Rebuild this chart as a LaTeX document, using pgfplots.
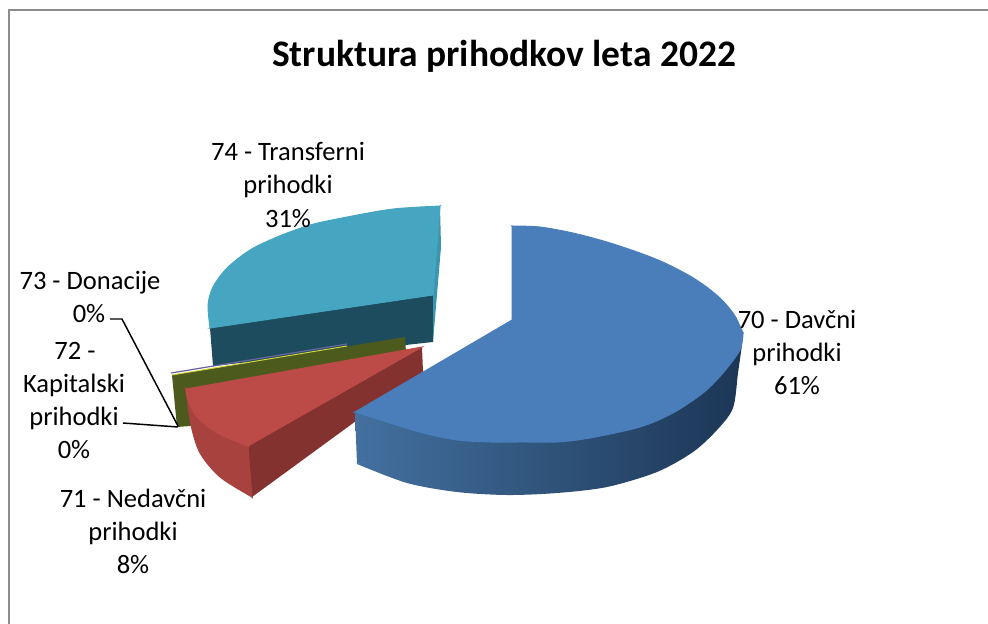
\documentclass[border=0pt]{standalone}
\usepackage{pgfplots}
\pgfplotsset{compat=1.18}
\usepackage{fontspec}
\setmainfont{Carlito}
\definecolor{bluetop}{HTML}{4A7EBB}
\definecolor{blueL}{HTML}{43709F}
\definecolor{blueR}{HTML}{1C3656}
\definecolor{tealtop}{HTML}{46A6C2}
\definecolor{tealdark}{HTML}{1D4C5E}
\definecolor{tealside}{HTML}{3C95AE}
\definecolor{redtop}{HTML}{BC4B48}
\definecolor{redside}{HTML}{A8423F}
\definecolor{reddark}{HTML}{84322F}
\definecolor{olive}{HTML}{4C5B1D}
\definecolor{framegray}{HTML}{8C8C8C}
\newcommand{\lab}[3]{\node[font=\fontsize{19.9}{22}\selectfont,text=black,inner sep=0pt,anchor=base] at (axis cs:#1,#2) {#3};}
\pgfplotsset{face/.style={draw=#1, line width=0.7pt, fill=#1, mark=none}}
\begin{document}
\begin{tikzpicture}
\useasboundingbox (0,0) rectangle (741pt,468pt);
\begin{axis}[
  at={(0,0)}, anchor=south west,
  scale only axis, width=741pt, height=468pt,
  xmin=0, xmax=988, ymin=0, ymax=624, y dir=reverse,
  axis lines=none, clip=true]
% frame
\addplot[framegray, line width=1.1pt] coordinates {(9,624) (9,10) (988,10)};
% teal segment
\addplot[draw=none, fill=tealdark] coordinates {(210,328) (433,295) (433,342) (213,366)} --cycle;
\addplot[draw=none, fill=tealside] coordinates {(440,206) (441,247) (433,342) (433,295)} --cycle;
\addplot[face=tealtop] coordinates {(440,206) (210,328) (433,295)} --cycle;
\addplot[face=tealtop, smooth] coordinates {(440,206) (393,209) (347,217) (310,225) (277,237) (250,250) (227,268) (213,287) (208,305) (210,328)} --cycle;
% thin slices
\addplot[draw=none, fill=olive] coordinates {(172,375) (405,337) (406,352) (190,426) (177,427)} --cycle;
\addplot[color=cyan!10!blue!50!gray, line width=0.9pt] coordinates {(171,373) (347,344)};
\addplot[color=olive!30!yellow!80!white, line width=0.7pt] coordinates {(172,375) (347,346)};
% red segment
\addplot[draw=none, fill=reddark] coordinates {(248,446) (422,347) (423,372) (252,497)} --cycle;
\addplot[face=redside] coordinates {(186,389) (252,497) (248,446)} --cycle;
\addplot[face=redside, smooth] coordinates {(186,389) (191,425) (200,453) (220,477) (252,497)} --cycle;
\addplot[face=redtop] coordinates {(186,389) (422,347) (248,446)} --cycle;
\addplot[face=redtop, smooth] coordinates {(186,389) (188,400) (197,417) (217,433) (248,446)} --cycle;
% blue segment
\addplot[draw=none, left color=blueL, right color=blueR, smooth] coordinates {(357,464) (407,483) (457,492) (507,495) (557,493) (607,487) (657,472) (693,452) (717,430) (733,408) (738,373) (742,345)} --cycle;
\addplot[draw=none, left color=blueL, right color=blueL!75!blueR] coordinates {(355,412) (357,464) (455,437) (455,425)} --cycle;
\addplot[face=bluetop] coordinates {(512,226) (512,320) (355,412) (743,333)} --cycle;
\addplot[face=bluetop, smooth] coordinates {(512,226) (540,227) (573,233) (607,242) (640,253) (665,263) (690,276) (708,288) (723,301) (735,316) (743,333)} --cycle;
\addplot[face=bluetop, smooth] coordinates {(743,333) (740,350) (723,373) (703,393) (673,413) (640,427) (590,438) (557,442) (523,442) (490,442) (457,440) (423,433) (390,423) (355,412)} --cycle;
% leaders
\addplot[black, line width=1.1pt] coordinates {(110,319) (122,319) (178,426)};
\addplot[black, line width=1.1pt] coordinates {(123,423) (178,427)};
% labels
\node[font=\fontsize{28.1}{30}\selectfont\bfseries,inner sep=0pt,anchor=base] at (axis cs:504,67) {Struktura prihodkov leta 2022};
\lab{288}{161}{74 - Transferni}
\lab{288}{194}{prihodki}
\lab{288}{227}{31\%}
\lab{90}{289}{73 - Donacije}
\lab{89}{322}{0\%}
\lab{75}{359}{72 -}
\lab{74}{392}{Kapitalski}
\lab{74}{425}{prihodki}
\lab{74}{458}{0\%}
\lab{133}{507}{71 - Nedavčni}
\lab{133}{540}{prihodki}
\lab{133}{573}{8\%}
\lab{797}{328}{70 - Davčni}
\lab{797}{361}{prihodki}
\lab{797}{394}{61\%}
\end{axis}
\end{tikzpicture}
\end{document}
